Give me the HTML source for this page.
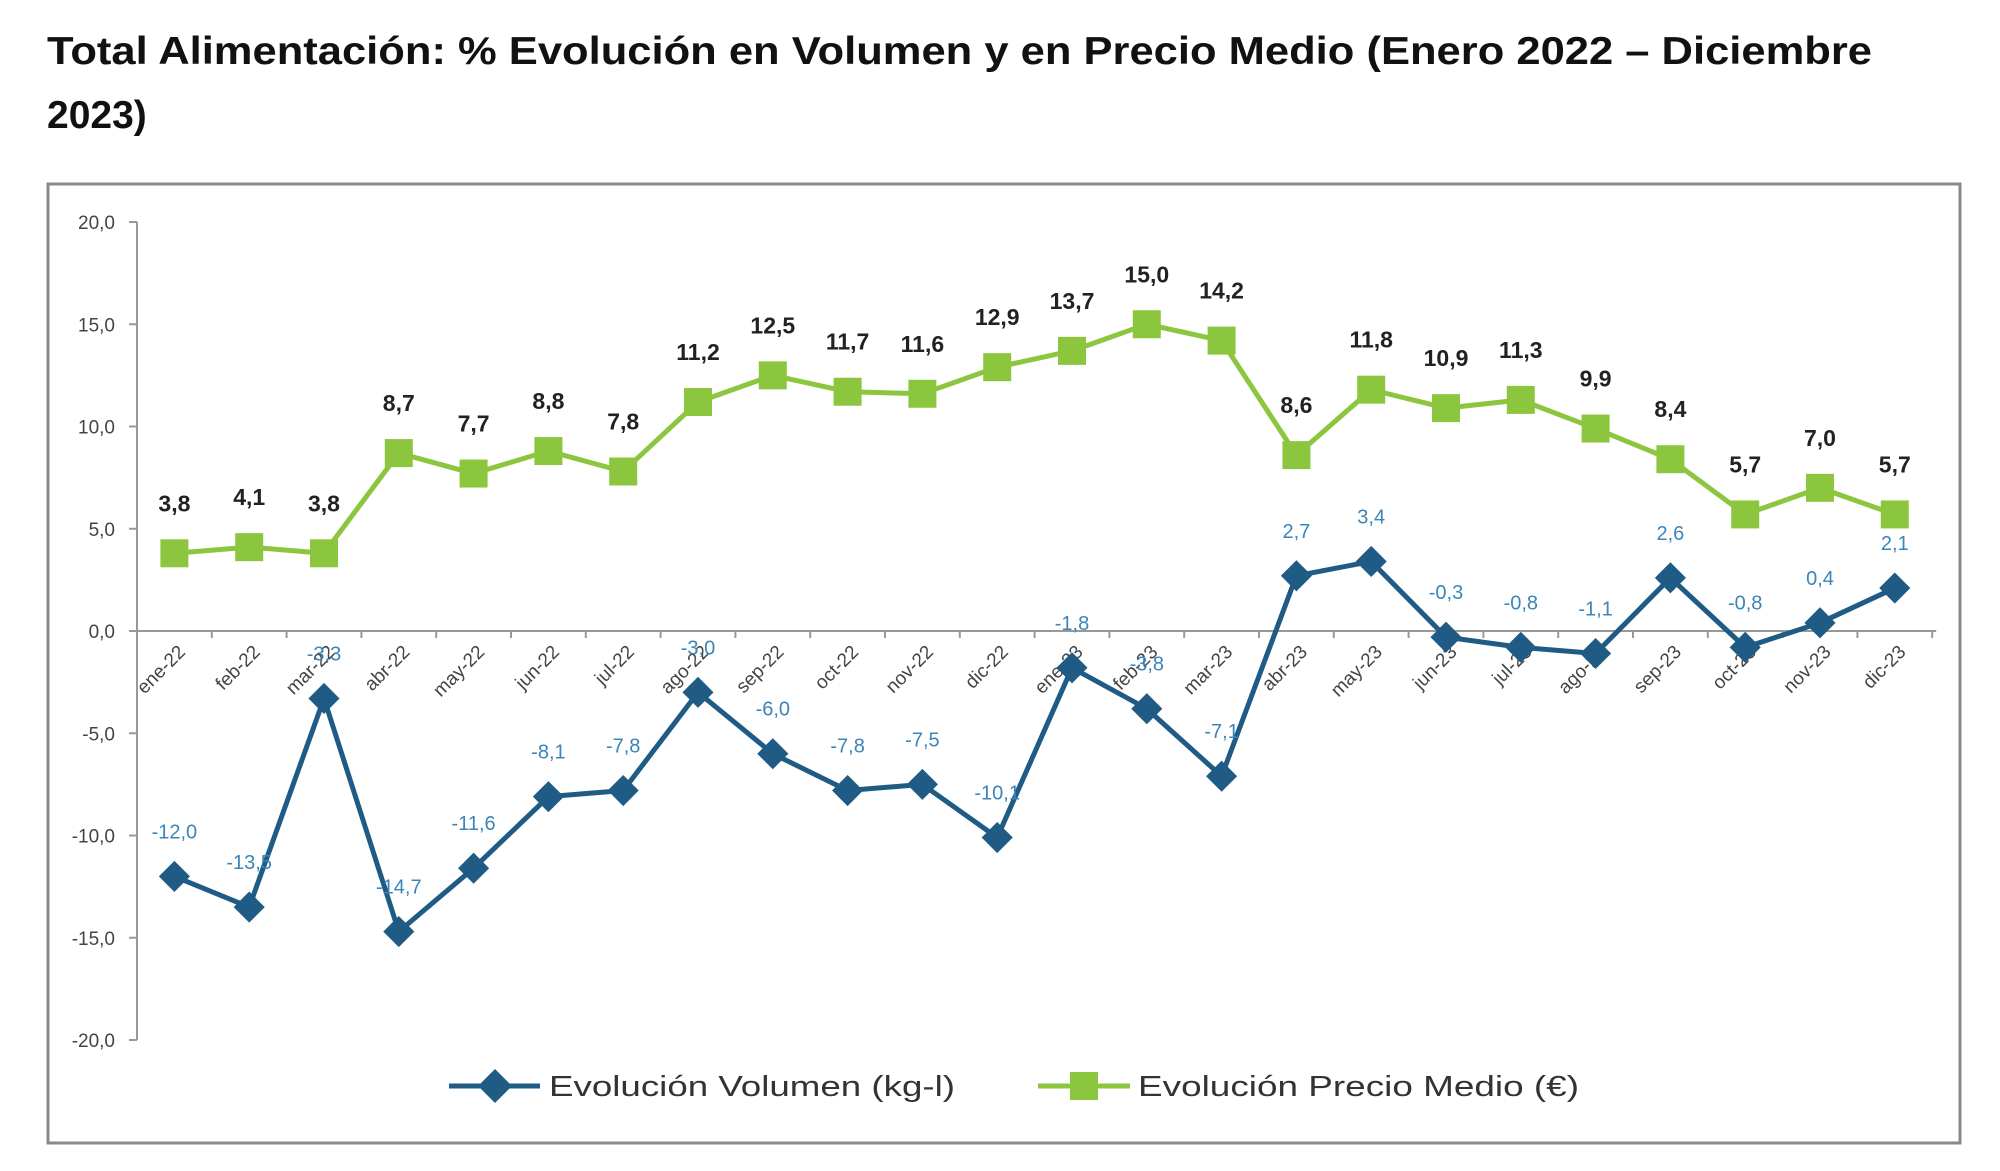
<!DOCTYPE html>
<html><head><meta charset="utf-8"><style>
html,body{margin:0;padding:0;background:#fff;}
svg{display:block;font-family:"Liberation Sans",sans-serif;}
</style></head><body>
<svg id="chart" width="2000" height="1171" viewBox="0 0 2000 1171">
<text x="47" y="64" font-size="39" font-weight="bold" fill="#111" textLength="1825" lengthAdjust="spacingAndGlyphs">Total Alimentación: % Evolución en Volumen y en Precio Medio (Enero 2022 – Diciembre</text>
<text x="47" y="128" font-size="39" font-weight="bold" fill="#111">2023)</text>
<rect x="48" y="184" width="1912" height="959" fill="#fff" stroke="#8a8a8a" stroke-width="3"/>
<g id="axes"></g>
<g id="series"></g>
<g>
<g>
<line x1="449" y1="1086" x2="540" y2="1086" stroke="#1f5b85" stroke-width="5"/>
<rect x="483" y="1074" width="24" height="24" fill="#1f5b85" transform="rotate(45 495 1086)"/>
<text x="549" y="1096" font-size="29" fill="#333" textLength="406" lengthAdjust="spacingAndGlyphs">Evolución Volumen (kg-l)</text>
</g>
<g>
<line x1="1038" y1="1086" x2="1130" y2="1086" stroke="#8cc63f" stroke-width="5"/>
<rect x="1070" y="1072" width="28" height="28" fill="#8cc63f"/>
<text x="1138" y="1096" font-size="29" fill="#333" textLength="441" lengthAdjust="spacingAndGlyphs">Evolución Precio Medio (€)</text>
</g>
</g>
</svg>
<script>
const categories=["ene-22","feb-22","mar-22","abr-22","may-22","jun-22","jul-22","ago-22","sep-22","oct-22","nov-22","dic-22","ene-23","feb-23","mar-23","abr-23","may-23","jun-23","jul-23","ago-23","sep-23","oct-23","nov-23","dic-23"];
const volumen=[-12.0,-13.5,-3.3,-14.7,-11.6,-8.1,-7.8,-3.0,-6.0,-7.8,-7.5,-10.1,-1.8,-3.8,-7.1,2.7,3.4,-0.3,-0.8,-1.1,2.6,-0.8,0.4,2.1];
const precio=[3.8,4.1,3.8,8.7,7.7,8.8,7.8,11.2,12.5,11.7,11.6,12.9,13.7,15.0,14.2,8.6,11.8,10.9,11.3,9.9,8.4,5.7,7.0,5.7];
const yTicks=[20,15,10,5,0,-5,-10,-15,-20];

const NS="http://www.w3.org/2000/svg";
const X0=137, BW=74.8, Y0=631, PU=20.45;
function xs(i){return X0+BW*(i+0.5);}
function ys(v){return Y0-v*PU;}
function fmt(v){return v.toFixed(1).replace('.',',');}
function mk(tag,attrs,parent){const e=document.createElementNS(NS,tag);for(const k in attrs)e.setAttribute(k,attrs[k]);parent.appendChild(e);return e;}
const axes=document.getElementById('axes'), series=document.getElementById('series');

// y axis
let ya=mk('line',{x1:X0,y1:ys(20),x2:X0,y2:ys(-20),stroke:'#999','stroke-width':2},axes);


yTicks.forEach(v=>{
  let t=mk('line',{x1:X0-8,y1:ys(v),x2:X0,y2:ys(v),stroke:'#999','stroke-width':2},axes);
  
  
  let l=mk('text',{x:X0-22,y:ys(v)+7,'font-size':19,fill:'#444','text-anchor':'end'},axes);
  l.textContent=fmt(v);
  
  
});
// x axis
let xa=mk('line',{x1:X0,y1:Y0,x2:X0+BW*categories.length+4,y2:Y0,stroke:'#999','stroke-width':2},axes);


for(let i=0;i<=categories.length;i++){
  let t=mk('line',{x1:X0+BW*i,y1:Y0,x2:X0+BW*i,y2:Y0+7,stroke:'#999','stroke-width':2},axes);
  
  
}
categories.forEach((c,i)=>{
  const x=xs(i)+12,y=Y0+22;
  let l=mk('text',{x:x,y:y,'font-size':19,fill:'#444','text-anchor':'end',transform:`rotate(-45 ${x} ${y})`},axes);
  l.textContent=c;
  
  
});

// price series
let pl=mk('polyline',{points:precio.map((v,i)=>xs(i)+','+ys(v)).join(' '),fill:'none',stroke:'#8cc63f','stroke-width':5,'stroke-linejoin':'round'},series);


precio.forEach((v,i)=>{
  let r=mk('rect',{x:xs(i)-14,y:ys(v)-14,width:28,height:28,fill:'#8cc63f'},series);
  
  
  let t=mk('text',{x:xs(i),y:ys(v)-42,'font-size':23,'font-weight':'bold',fill:'#222','text-anchor':'middle'},series);
  t.textContent=fmt(v);
  
  
});
// volume series
let vl=mk('polyline',{points:volumen.map((v,i)=>xs(i)+','+ys(v)).join(' '),fill:'none',stroke:'#1f5b85','stroke-width':5,'stroke-linejoin':'round'},series);


volumen.forEach((v,i)=>{
  let r=mk('rect',{x:xs(i)-11,y:ys(v)-11,width:22,height:22,fill:'#1f5b85',transform:`rotate(45 ${xs(i)} ${ys(v)})`},series);
  
  
  let t=mk('text',{x:xs(i),y:ys(v)-38,'font-size':20,fill:'#3a86b8','text-anchor':'middle'},series);
  t.textContent=fmt(v);
  
  
});
</script>
</body></html>
